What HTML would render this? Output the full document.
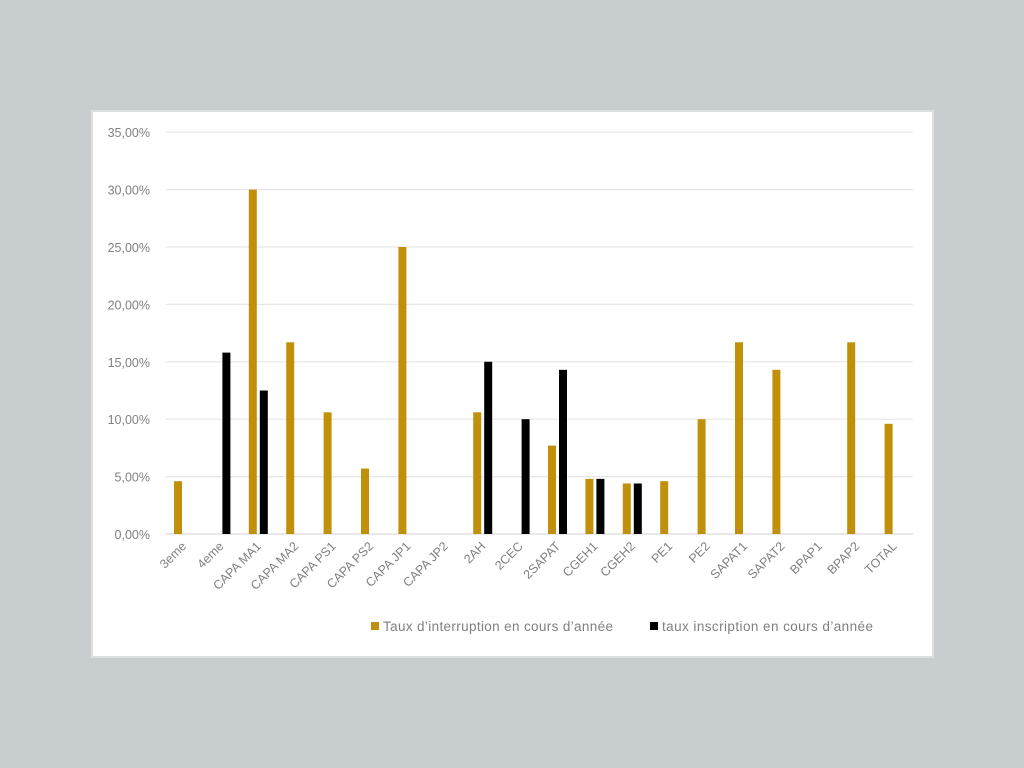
<!DOCTYPE html>
<html><head><meta charset="utf-8"><style>
html,body{margin:0;padding:0;background:#c8cdd0;width:1024px;height:768px;overflow:hidden}
svg{position:absolute;left:0;top:0}
text{font-family:"Liberation Sans","DejaVu Sans",sans-serif;fill:#808080}
</style></head><body>
<svg width="1024" height="768" xmlns="http://www.w3.org/2000/svg">
<rect x="92" y="111" width="841" height="546" fill="#fff" stroke="#dde0e2" stroke-width="2"/>
<g id="grid"></g>
<g id="bars"></g>
<g id="lbl"></g>
<rect x="371" y="622" width="8" height="8" fill="#c0900a"/>
<text x="383" y="631" font-size="13.5" textLength="230">Taux d’interruption en cours d’année</text>
<rect x="650" y="622" width="8" height="8" fill="#000"/>
<text x="662" y="631" font-size="13.5" textLength="211">taux inscription en cours d’année</text>
</svg>
<script>
var ns="http://www.w3.org/2000/svg";
function el(t,a,p,tx){var e=document.createElementNS(ns,t);for(var k in a)e.setAttribute(k,a[k]);if(tx)e.textContent=tx;document.getElementById(p).appendChild(e);}
var y0=534,pp=57.4/5;
for(var i=0;i<=7;i++){var y=y0-i*57.4;el('line',{x1:166,x2:913,y1:y,y2:y,stroke:i==0?'#d9d9d9':'#e6e6e6','stroke-width':1.2},'grid');
el('text',{x:150,y:y+5,'text-anchor':'end','font-size':'12.5'},'grid',(i*5)+',00%');}
var cats=["3eme","4eme","CAPA MA1","CAPA MA2","CAPA PS1","CAPA PS2","CAPA JP1","CAPA JP2","2AH","2CEC","2SAPAT","CGEH1","CGEH2","PE1","PE2","SAPAT1","SAPAT2","BPAP1","BPAP2","TOTAL"];
var g=[4.6,0,30,16.7,10.6,5.7,25,0,10.6,0,7.7,4.8,4.4,4.6,10,16.7,14.3,0,16.7,9.6];
var b=[0,15.8,12.5,0,0,0,0,0,15,10,14.3,4.8,4.4,0,0,0,0,0,0,0];
for(var i=0;i<20;i++){var c=165.3+(i+0.5)*37.4;
if(g[i])el('rect',{x:c-10,y:y0-g[i]*pp,width:8,height:g[i]*pp,fill:'#c0900a'},'bars');
if(b[i])el('rect',{x:c+1,y:y0-b[i]*pp,width:8,height:b[i]*pp,fill:'#000'},'bars');
el('text',{x:c+3,y:547,'text-anchor':'end','font-size':'12.5',transform:'rotate(-45 '+(c+3)+' 547)'},'lbl',cats[i]);}
</script>
</body></html>
